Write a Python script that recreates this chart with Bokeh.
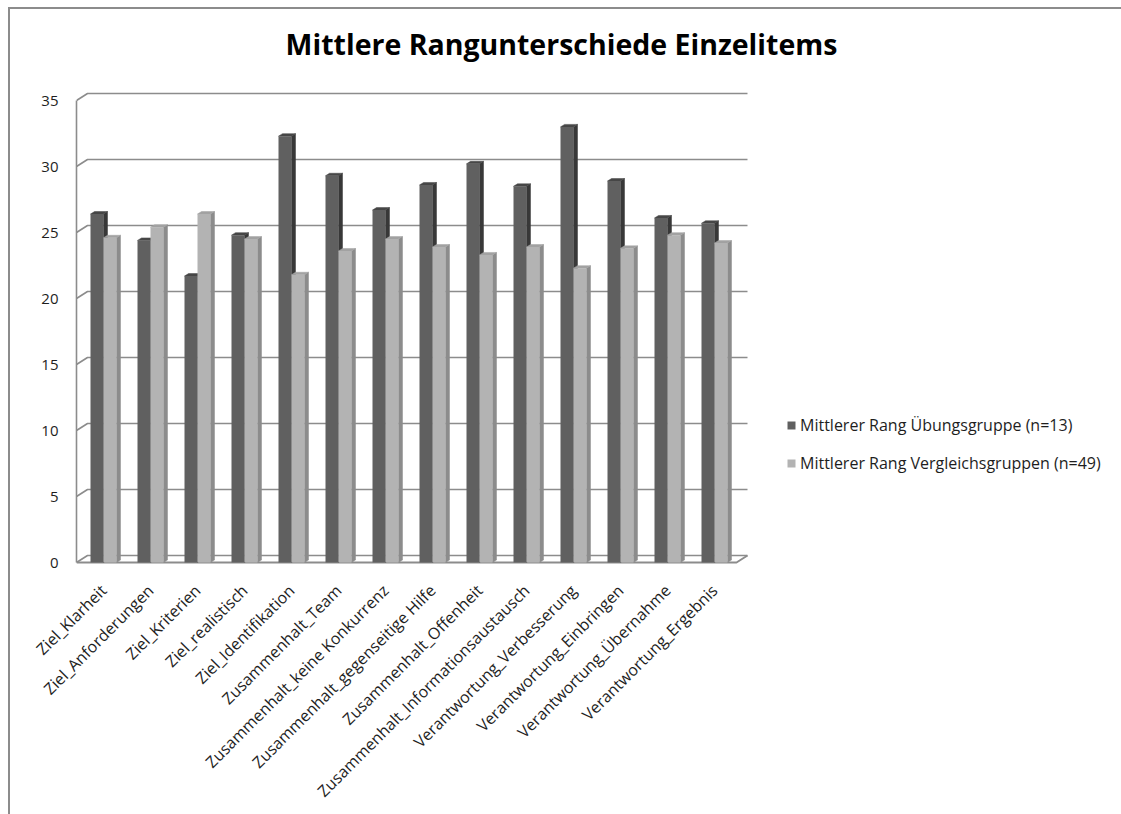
import math
from bokeh.plotting import figure
from bokeh.models import Range1d, FixedTicker, Legend, LegendItem, ColumnDataSource, Label
from bokeh.embed import file_html
from bokeh.resources import INLINE

# ---------------- data ----------------
categories = [
    "Ziel_Klarheit", "Ziel_Anforderungen", "Ziel_Kriterien", "Ziel_realistisch",
    "Ziel_Identifikation", "Zusammenhalt_Team", "Zusammenhalt_keine Konkurrenz",
    "Zusammenhalt_gegenseitige Hilfe", "Zusammenhalt_Offenheit",
    "Zusammenhalt_Informationsaustausch", "Verantwortung_Verbesserung",
    "Verantwortung_Einbringen", "Verantwortung_Übernahme", "Verantwortung_Ergebnis",
]
uebungsgruppe = [26.4, 24.4, 21.7, 24.8, 32.3, 29.3, 26.7, 28.6, 30.2, 28.5, 33.0, 28.9, 26.1, 25.7]
vergleichsgruppen = [24.6, 25.4, 26.4, 24.5, 21.8, 23.6, 24.5, 23.9, 23.3, 23.9, 22.3, 23.8, 24.8, 24.2]
series_labels = ["Mittlerer Rang Übungsgruppe (n=13)", "Mittlerer Rang Vergleichsgruppen (n=49)"]
y_ticks = [0, 5, 10, 15, 20, 25, 30, 35]
title_text = "Mittlere Rangunterschiede Einzelitems"

# ---------------- geometry / style ----------------
FONT = "Open Sans"
TEXT_COLOR = "#1e1e1e"
GRID_COLOR = "#8c8c8c"
DARK_FRONT, DARK_SIDE, DARK_TOP = "#606060", "#383838", "#474747"
LIGHT_FRONT, LIGHT_SIDE, LIGHT_TOP = "#b3b3b3", "#8c8c8c", "#a2a2a2"

CANVAS_W, CANVAS_H = 1111, 805
FRAME_L = 66
FRAME_BOTTOM = 557
WALL_W = 671         # px width of the back wall
PX_CAT = 47.0        # pixels per category
PX_UNIT = 13.2       # pixels per value unit
X_FIRST = 27         # px from frame left to first category centre
Y0_FROM_BOTTOM = 4   # px from frame bottom to value 0

x_start = -X_FIRST / PX_CAT
x_end = x_start + (CANVAS_W - FRAME_L) / PX_CAT
x_wall_end = x_start + WALL_W / PX_CAT
y_start = -Y0_FROM_BOTTOM / PX_UNIT
y_end = y_start + FRAME_BOTTOM / PX_UNIT

DEPTH_X, DEPTH_Y = 11 / PX_CAT, 7 / PX_UNIT       # wall depth
BAR_W = 13 / PX_CAT
BAR_DX, BAR_DY = 4 / PX_CAT, 2.5 / PX_UNIT        # bar depth
FLOOR_FRONT_END = x_start + (WALL_W - 11) / PX_CAT

p = figure(
    width=CANVAS_W, height=CANVAS_H, output_backend="svg", toolbar_location=None,
    x_range=Range1d(x_start, x_end), y_range=Range1d(y_start, y_end),
    min_border_left=FRAME_L, min_border_top=0, min_border_right=0,
    min_border_bottom=CANVAS_H - FRAME_BOTTOM,
    background_fill_color="white", border_fill_color="white",
)
p.outline_line_color = None
p.xgrid.visible = False
p.ygrid.visible = False
p.styles = {"margin-left": "10px", "margin-top": "9px", "outline": "2px solid #8c8c8c"}

# back wall gridlines with the diagonal start from the front axis
grid_xs = [[x_start, x_start + DEPTH_X, x_wall_end] for g in y_ticks]
grid_ys = [[g, g + DEPTH_Y, g + DEPTH_Y] for g in y_ticks]
p.multi_line(grid_xs, grid_ys, line_color=GRID_COLOR, line_width=1.6)

# floor front edge
p.line([x_start, FLOOR_FRONT_END, FLOOR_FRONT_END + DEPTH_X], [0, 0, DEPTH_Y],
       line_color=GRID_COLOR, line_width=2)

idx = list(range(len(categories)))


def draw_series(values, left_off, front, side, top):
    lefts = [i + left_off for i in idx]
    rights = [l + BAR_W for l in lefts]
    side_xs = [[r, r + BAR_DX, r + BAR_DX, r] for r in rights]
    side_ys = [[0, BAR_DY, v + BAR_DY, v] for v in values]
    top_xs = [[l, r, r + BAR_DX, l + BAR_DX] for l, r in zip(lefts, rights)]
    top_ys = [[v, v, v + BAR_DY, v + BAR_DY] for v in values]
    p.patches(side_xs, side_ys, fill_color=side, line_color=side, line_width=0.5)
    p.patches(top_xs, top_ys, fill_color=top, line_color=top, line_width=0.5)
    src = ColumnDataSource(dict(left=lefts, right=rights, top=values, bottom=[0] * len(values)))
    return p.quad(left="left", right="right", top="top", bottom="bottom", source=src,
                  fill_color=front, line_color=None)


r_dark = draw_series(uebungsgruppe, -BAR_W, DARK_FRONT, DARK_SIDE, DARK_TOP)
r_light = draw_series(vergleichsgruppen, 0.0, LIGHT_FRONT, LIGHT_SIDE, LIGHT_TOP)

# y axis (front)
yax = p.yaxis[0]
yax.ticker = FixedTicker(ticks=y_ticks)
yax.bounds = (0, 35)
yax.axis_line_color = GRID_COLOR
yax.axis_line_width = 1.6
yax.major_tick_line_color = None
yax.minor_tick_line_color = None
yax.major_label_standoff = 12
yax.major_label_text_font = FONT
yax.major_label_text_font_size = "15px"
yax.major_label_text_color = TEXT_COLOR

# x axis
xax = p.xaxis[0]
xax.ticker = FixedTicker(ticks=idx)
xax.major_label_overrides = {i: c for i, c in zip(idx, categories)}
xax.major_label_orientation = math.pi / 4
xax.axis_line_color = None
xax.major_tick_line_color = None
xax.minor_tick_line_color = None
xax.major_label_standoff = 15
xax.major_label_text_font = FONT
xax.major_label_text_font_size = "16px"
xax.major_label_text_color = TEXT_COLOR

# legend
legend = Legend(
    items=[LegendItem(label=series_labels[0], renderers=[r_dark]),
           LegendItem(label=series_labels[1], renderers=[r_light])],
    location=(710, 92), orientation="vertical",
    glyph_width=10, glyph_height=10, label_height=10, spacing=16,
    label_standoff=4, padding=0, margin=0,
    border_line_color=None, background_fill_alpha=0,
    label_text_font=FONT, label_text_font_size="16px", label_text_color=TEXT_COLOR,
)
p.add_layout(legend)

# title
title = Label(x=485, y=523, x_units="screen", y_units="screen", text=title_text,
              text_align="center", text_baseline="middle",
              text_font=FONT, text_font_style="bold", text_font_size="28.5px",
              text_color="#000000")
p.add_layout(title)

open("out.html", "w").write(file_html(p, INLINE))
